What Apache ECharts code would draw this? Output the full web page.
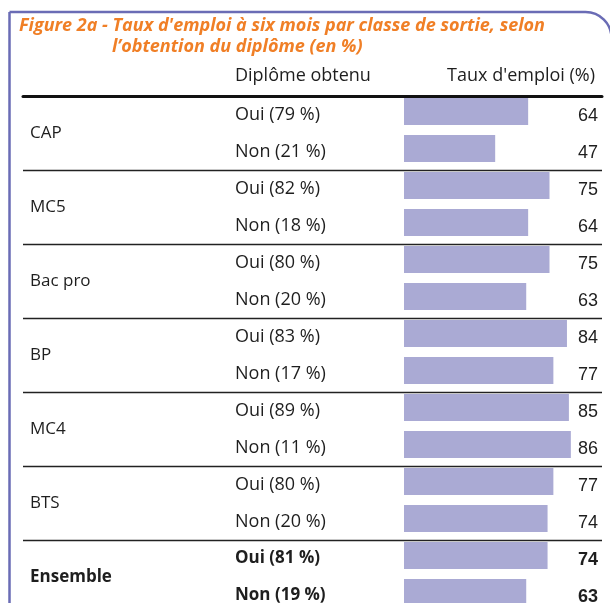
<!DOCTYPE html>
<html>
<head>
<meta charset="utf-8">
<script src="https://cdn.jsdelivr.net/npm/echarts@6/dist/echarts.min.js"></script>
<style>
html,body{margin:0;padding:0;background:#fff;overflow:hidden;}
#chart{width:610px;height:624px;}
</style>
</head>
<body>
<div id="chart"></div>
<script>
const groups = ['CAP', 'MC5', 'Bac pro', 'BP', 'MC4', 'BTS', 'Ensemble'];
const ouiShare = [79, 82, 80, 83, 89, 80, 81];
const nonShare = [21, 18, 20, 17, 11, 20, 19];
const ouiRate = [64, 75, 75, 84, 85, 77, 74];
const nonRate = [47, 64, 63, 77, 86, 74, 63];
const titleLine1 = "Figure 2a - Taux d'emploi à six mois par classe de sortie, selon";
const titleLine2 = "l’obtention du diplôme (en %)";
const headerLeft = 'Diplôme obtenu';
const headerRight = "Taux d'emploi (%)";

const rowLabels = [];
const rowValues = [];
groups.forEach((g, i) => {
  rowLabels.push('Oui (' + ouiShare[i] + ' %)');
  rowValues.push(ouiRate[i]);
  rowLabels.push('Non (' + nonShare[i] + ' %)');
  rowValues.push(nonRate[i]);
});
const boldFrom = (groups.length - 1) * 2;

const LABEL_FONT = 'Open Sans';
const TITLE_FONT = 'Open Sans';
const NUM_FONT = 'Liberation Sans';
const ORANGE = '#f07f26';
const PURPLE = '#6a6cb5';
const BAR = '#aaaad4';
const TXT = '#1e1e1e';

const chart = echarts.init(document.getElementById('chart'), null, {renderer: 'canvas'});
const titleStyle = {color: ORANGE, fontSize: 18, fontWeight: 'bold', fontStyle: 'italic', fontFamily: TITLE_FONT};
const headStyle = {color: TXT, fontSize: 18, fontWeight: 'normal', fontFamily: LABEL_FONT};

chart.setOption({
  animation: false,
  backgroundColor: '#fff',
  title: [
    {text: titleLine1, left: 19, top: 17, padding: 0, textStyle: titleStyle},
    {text: titleLine2, left: 112, top: 38, padding: 0, textStyle: titleStyle},
    {text: headerLeft, left: 235, top: 67, padding: 0, textStyle: headStyle},
    {text: headerRight, right: 15, top: 67, padding: 0, textStyle: headStyle}
  ],
  graphic: [
    {type: 'rect', shape: {x: 9.5, y: 12, width: 602, height: 700, r: [0, 26, 0, 0]},
     style: {fill: 'none', stroke: PURPLE, lineWidth: 2.5}, z: 10}
  ],
  grid: [
    {left: 404, right: 12, top: 93, height: 518},
    {left: 404, right: 12, top: 96, height: 518},
    {left: 23, right: 8, top: 96, height: 518}
  ],
  xAxis: [
    {gridIndex: 0, type: 'value', min: 0, max: 100, show: false},
    {gridIndex: 1, type: 'value', min: 0, max: 100, show: false},
    {gridIndex: 2, type: 'value', min: 0, max: 100, position: 'top',
     axisLine: {show: true, onZero: false, lineStyle: {color: '#111', width: 3}},
     axisTick: {show: false}, axisLabel: {show: false}, splitLine: {show: false}}
  ],
  yAxis: [
    {gridIndex: 0, type: 'category', inverse: true, data: rowLabels, show: false},
    {gridIndex: 1, type: 'category', inverse: true, data: rowLabels, position: 'left',
     axisLine: {show: false}, axisTick: {show: false}, splitLine: {show: false},
     axisLabel: {interval: 0, align: 'left', margin: 169, color: TXT, fontSize: 18, fontFamily: LABEL_FONT,
       formatter: (v, i) => i >= boldFrom ? '{b|' + v + '}' : v,
       rich: {b: {fontWeight: 'bold', fontSize: 17, fontFamily: LABEL_FONT, color: TXT}}}},
    {gridIndex: 1, type: 'category', inverse: true, data: rowValues.map(String), position: 'right',
     axisLine: {show: false}, axisTick: {show: false}, splitLine: {show: false},
     axisLabel: {interval: 0, align: 'right', margin: 0, color: TXT, fontSize: 18, fontFamily: NUM_FONT,
       padding: [4, 0, 0, 0],
       formatter: (v, i) => i >= boldFrom ? '{b|' + v + '}' : v,
       rich: {b: {fontWeight: 'bold', fontSize: 18, fontFamily: NUM_FONT, color: TXT}}}},
    {gridIndex: 2, type: 'category', inverse: true, data: groups,
     axisLine: {show: false}, axisTick: {show: false},
     splitLine: {show: true, interval: 0, lineStyle: {color: '#222', width: 1.3}},
     axisLabel: {interval: 0, align: 'left', margin: -7, color: TXT, fontSize: 17, fontFamily: LABEL_FONT,
       formatter: (v, i) => i === groups.length - 1 ? '{b|' + v + '}' : v,
       rich: {b: {fontWeight: 'bold', fontSize: 17, fontFamily: LABEL_FONT, color: TXT}}}}
  ],
  series: [
    {type: 'bar', xAxisIndex: 0, yAxisIndex: 0, data: rowValues, barWidth: 27,
     itemStyle: {color: BAR}, silent: true}
  ]
});
</script>
</body>
</html>
